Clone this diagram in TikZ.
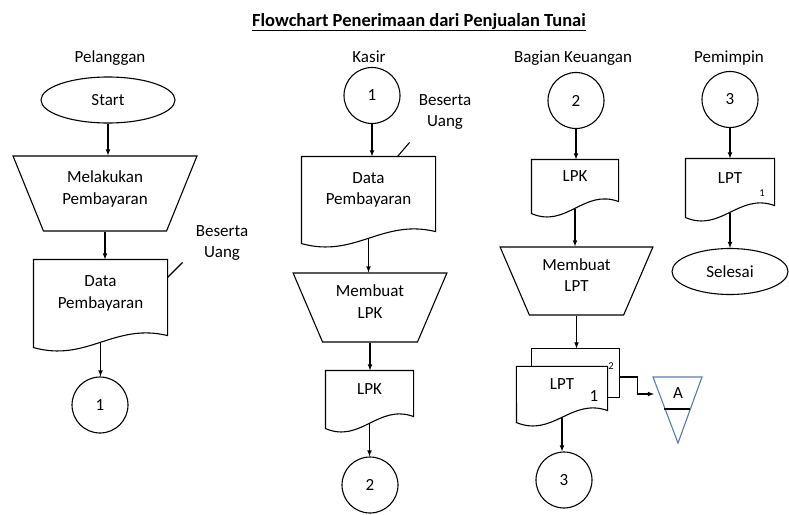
\documentclass[tikz,border=0pt]{standalone}
\usepackage{fontspec}
\setmainfont{Carlito}
\usepackage{tikz}
\usetikzlibrary{shapes.geometric, arrows, calc}
\definecolor{archblue}{RGB}{84,126,178}

\begin{document}
\begin{tikzpicture}[x=1pt, y=-1pt, line width=1.1pt,
            every node/.style={font=\fontsize{17}{21.5}\selectfont, align=center}, % Calibri-like text
            term/.style={ellipse, draw, inner sep=0pt}, % Start and end
            conn/.style={circle, draw, minimum size=56pt, inner sep=0pt}, % Connectors
            manual/.style={trapezium, trapezium angle=65, trapezium stretches=true,
                shape border rotate=180, draw, inner sep=0pt, text depth=12pt}, % Manual operation
            doc/.style={inner sep=0pt, append after command={\pgfextra{
                \draw (\tikzlastnode.north west) -- ($(\tikzlastnode.south west)+(0,20)$)
                    .. controls ($(\tikzlastnode.south west)!0.4!(\tikzlastnode.south east)+(0,35)$)
                    and ($(\tikzlastnode.south west)!0.6!(\tikzlastnode.south east)+(0,-5)$)
                    .. ($(\tikzlastnode.south east)+(0,8)$) -- (\tikzlastnode.north east) -- cycle;}}}, % Document
            arrow/.style={-latex},
            small/.style={font=\fontsize{10.5}{12}\selectfont, inner sep=0pt}
            ]

                \useasboundingbox (0,0) rectangle (789,514);

                % Title and lanes
                \node[anchor=base, font=\fontsize{18.5}{22}\selectfont] (title) at (419,26) {\bfseries\underline{Flowchart Penerimaan dari Penjualan Tunai}};
                \node[anchor=base] (pelanggan) at (110,62) {Pelanggan};
                \node[anchor=base] (kasir) at (369,62) {Kasir};
                \node[anchor=base] (keuangan) at (573,62) {Bagian Keuangan};
                \node[anchor=base] (pemimpin) at (729,62) {Pemimpin};

                % Pelanggan
                \node[term, minimum width=134pt, minimum height=46pt] (start) at (108,100) {Start};
                \node[manual, minimum width=184pt, minimum height=75pt] (bayar) at (105,193.5) {Melakukan\\Pembayaran};
                \node[doc, minimum width=133pt, minimum height=67pt] (data1) at (100.5,293.5) {Data\\Pembayaran};
                \node (uang1) at (222,243) {Beserta\\Uang};
                \node[conn] (con1a) at (100,405) {1};

                \draw[arrow] (start.south) -- (start.south |- bayar.north);
                \draw[arrow] (bayar.south) -- (bayar.south |- data1.north);
                \draw[arrow] ([yshift=-15pt]data1.south) -- (data1.south |- con1a.north);
                \draw ([yshift=-18pt]data1.north east) -- ++(15,-15);

                % Kasir
                \node[conn] (con1b) at (372,95.5) {1};
                \node[doc, minimum width=133pt, minimum height=66pt] (data2) at (368.5,190) {Data\\Pembayaran};
                \node (uang2) at (445,112) {Beserta\\Uang};
                \node[manual, minimum width=154pt, minimum height=69pt] (lpkbuat) at (370,307.5) {Membuat\\LPK};
                \node[doc, minimum width=87pt, minimum height=37pt] (lpk1) at (369.5,389.5) {LPK};
                \node[conn] (con2a) at (370,485) {2};

                \draw[arrow] (con1b.south) -- (con1b.south |- data2.north);
                \draw[arrow] ([yshift=-15pt]data2.south) -- (data2.south |- lpkbuat.north);
                \draw[arrow] (lpkbuat.south) -- (lpkbuat.south |- lpk1.north);
                \draw[arrow] ([yshift=-15pt]lpk1.south) -- (lpk1.south |- con2a.north);
                \draw ([xshift=-38pt]data2.north east) -- ++(12,-14);

                % Bagian Keuangan
                \node[conn] (con2b) at (576,100.5) {2};
                \node[doc, minimum width=86pt, minimum height=33pt] (lpk2) at (575,176.5) {LPK};
                \node[manual, minimum width=153pt, minimum height=68pt] (lptbuat) at (576.5,281) {Membuat\\LPT};
                \node[inner sep=0pt, minimum width=87pt, minimum height=48pt] (lptcopy) at (575.5,373) {};
                \node[doc, fill=white, minimum width=90pt, minimum height=35pt] (lpt1) at (562,384.5) {LPT};
                \node (nr1) at (594,396) {1};
                \node[small] (nr2) at (611,366) {2};
                \node[conn] (con3a) at (564,480) {3};

                \draw (lpt1.north -| lptcopy.west) -- (lptcopy.north west) -- (lptcopy.north east)
                    -- (lptcopy.south east) -- (lptcopy.south -| lpt1.east);

                % Arsip
                \draw[archblue] (653,377) -- (702,377) -- (678,443) -- cycle;
                \draw (664,409) -- (690,409);
                \node (arsip) at (678,393) {A};
                \coordinate (arsipin) at (654,394);

                \draw[arrow] (con2b.south) -- (con2b.south |- lpk2.north);
                \draw[arrow] ([yshift=-15pt]lpk2.south) -- (lpk2.south |- lptbuat.north);
                \draw[arrow] (lptbuat.south) -- (lptbuat.south |- lptcopy.north);
                \draw[arrow] ([yshift=-4pt]lptcopy.east) -- ++(18,0) |- (arsipin);
                \draw[arrow] ([yshift=-15pt]lpt1.south) -- (lpt1.south |- con3a.north);

                % Pemimpin
                \node[conn] (con3b) at (730,99.5) {3};
                \node[doc, minimum width=88pt, minimum height=38pt] (lpt2) at (730,178) {LPT};
                \node[small] (nr3) at (762,193) {1};
                \node[term, minimum width=116pt, minimum height=46pt] (selesai) at (730,271.5) {Selesai};

                \draw[arrow] (con3b.south) -- (con3b.south |- lpt2.north);
                \draw[arrow] ([yshift=-15pt]lpt2.south) -- (lpt2.south |- selesai.north);

            \end{tikzpicture}
\end{document}
